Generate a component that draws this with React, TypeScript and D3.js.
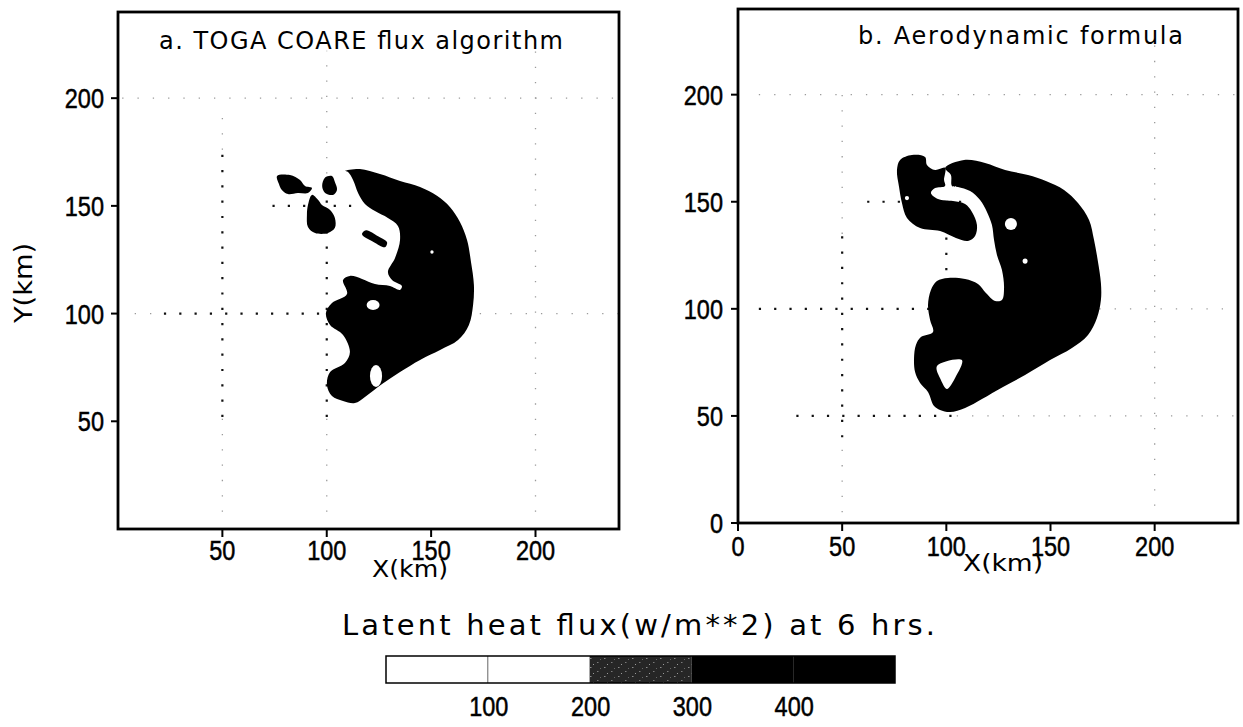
import React from 'react';
import * as d3 from 'd3';

type P = [number, number];

// ---------- axis / legend values ----------
const xTicksA = [50, 100, 150, 200];
const yTicksA = [50, 100, 150, 200];
const xTicksB = [0, 50, 100, 150, 200];
const yTicksB = [0, 50, 100, 150, 200];
const domainKm: [number, number] = [0, 240];
const legendBounds = [0, 100, 200, 300, 400, 500];
const legendLabels = [100, 200, 300, 400];
const titleA = 'a. TOGA COARE flux algorithm';
const titleB = 'b. Aerodynamic formula';
const bottomTitle = 'Latent heat flux(w/m**2) at 6 hrs.';

// ---------- panel a: regions with flux > 300 W/m2 (km) ----------
const fluxA_main: P[] = [
  [108.7, 166.2], [115.9, 167.1], [125.5, 164.8], [135.1, 161.6], [144.7, 158.8], [152.8, 154.7],
  [159.0, 149.5], [163.8, 142.5], [167.2, 134.2], [169.1, 124.0], [170.5, 113.3], [170.1, 104.0],
  [168.1, 94.7], [162.9, 87.7], [154.3, 83.1], [144.7, 78.5], [135.1, 72.9], [126.5, 67.3],
  [118.3, 61.3], [113.5, 58.5], [107.8, 59.4], [102.5, 61.7], [100.1, 66.9], [101.6, 72.9],
  [108.7, 77.1], [111.1, 82.2], [107.8, 90.1], [101.6, 94.7], [99.6, 100.3], [102.5, 104.9],
  [109.7, 109.1], [107.8, 115.6], [111.1, 117.5], [116.9, 116.1], [123.1, 113.7], [130.3, 112.8],
  [135.1, 111.0], [136.0, 112.8], [131.3, 115.6], [129.3, 119.3], [132.7, 125.8], [135.1, 134.2],
  [134.1, 140.7], [129.3, 144.4], [123.1, 147.6], [118.3, 150.9], [115.0, 156.0], [112.6, 162.0],
  [110.2, 165.7],
];
const fluxA_bar: P[] = [[116.9, 136.8], [118.8, 138.7], [124.6, 135.9], [128.9, 133.1], [127.9, 130.8], [122.6, 133.1]];
const fluxA_blob1: P[] = [[76.2, 163.9], [82.4, 164.3], [87.2, 162.0], [89.6, 159.2], [92.9, 158.3], [91.0, 156.0], [86.2, 156.0], [81.4, 155.5], [78.5, 157.4], [77.1, 160.2]];
const fluxA_blob2: P[] = [[99.2, 163.2], [102.5, 163.9], [103.9, 161.1], [104.9, 157.4], [103.0, 155.1], [99.2, 156.0], [97.8, 159.2]];
const fluxA_blob3: P[] = [[92.9, 155.1], [95.8, 152.8], [97.7, 150.4], [101.6, 148.1], [103.9, 144.4], [103.9, 139.8], [100.6, 137.4], [94.4, 137.4], [91.0, 140.2], [90.5, 145.8], [91.0, 150.4]];
// white holes (cx, cy, rx, ry) in km
const fluxA_holes: [number, number, number, number][] = [[122.2, 104.0, 3.1, 2.3], [123.6, 71.0, 2.9, 5.1], [150.4, 128.6, 0.8, 0.8]];

// ---------- panel b ----------
const fluxB_main: P[] = [
  [99.4, 165.8], [108.5, 169.5], [118.6, 168.1], [128.2, 164.8], [139.2, 162.5], [147.8, 159.7],
  [156.5, 155.5], [163.2, 149.4], [168.5, 141.5], [170.9, 132.1], [172.8, 121.9], [174.2, 112.1],
  [174.2, 104.1], [172.3, 95.7], [168.0, 87.8], [160.3, 81.7], [149.8, 76.1], [137.8, 69.1],
  [127.2, 63.5], [117.1, 57.9], [109.0, 53.7], [101.8, 51.8], [97.0, 52.8], [94.1, 54.6],
  [91.2, 61.2], [87.4, 65.4], [85.0, 70.5], [84.5, 77.0], [85.4, 83.1], [87.8, 86.8],
  [93.6, 89.2], [92.2, 94.8], [91.2, 101.8], [92.6, 108.8], [95.5, 113.0], [100.8, 114.4],
  [109.0, 113.9], [115.2, 111.6], [119.0, 107.4], [123.4, 103.7], [126.7, 104.1], [127.7, 109.7],
  [126.7, 118.1], [124.3, 125.1], [122.9, 132.1], [121.9, 139.1], [119.5, 145.2], [116.2, 150.8],
  [111.4, 155.0], [105.6, 156.9], [102.7, 157.4], [102.2, 162.5],
];
const fluxB_head: P[] = [
  [77.8, 169.5], [83.5, 171.8], [89.8, 170.9], [90.7, 167.2], [94.6, 164.8], [99.4, 165.8],
  [98.9, 160.2], [99.4, 157.4], [94.6, 156.4], [92.6, 154.1], [96.0, 151.3], [103.2, 150.3],
  [109.0, 148.9], [112.3, 145.2], [114.7, 139.1], [113.8, 134.0], [110.4, 131.7], [104.6, 133.1],
  [97.0, 136.3], [87.4, 137.7], [81.1, 142.4], [78.7, 149.4], [77.3, 156.9], [76.3, 164.8],
];
const fluxB_notch: P[] = [[95.5, 73.3], [107.5, 76.1], [104.2, 67.7], [100.3, 62.6], [97.4, 66.8]];
const fluxB_holes: [number, number, number, number][] = [[131.0, 139.6, 2.9, 2.8], [137.8, 122.3, 1.2, 1.2], [81.1, 151.7, 1.0, 1.0]];

// ---------- dotted reference lines (km) ----------
type G = { dir: 'h' | 'v'; at: number; from: number; to: number };
const gridA_dark: G[] = [
  { dir: 'h', at: 100, from: 22, to: 100 }, { dir: 'h', at: 150, from: 74, to: 112 },
  { dir: 'v', at: 50, from: 52, to: 176 }, { dir: 'v', at: 100, from: 52, to: 165 },
];
const gridA_light: G[] = [
  { dir: 'h', at: 200, from: 2, to: 240 }, { dir: 'h', at: 100, from: 8, to: 22 },
  { dir: 'h', at: 100, from: 100, to: 240 },
  { dir: 'v', at: 50, from: 8, to: 52 }, { dir: 'v', at: 50, from: 176, to: 196 },
  { dir: 'v', at: 100, from: 8, to: 52 }, { dir: 'v', at: 100, from: 165, to: 222 },
  { dir: 'v', at: 200, from: 8, to: 228 },
];
const gridB_dark: G[] = [
  { dir: 'h', at: 100, from: 10, to: 100 }, { dir: 'h', at: 150, from: 62, to: 112 },
  { dir: 'h', at: 50, from: 28, to: 105 }, { dir: 'v', at: 50, from: 40, to: 135 },
  { dir: 'v', at: 100, from: 118, to: 135 },
];
const gridB_light: G[] = [
  { dir: 'h', at: 200, from: 10, to: 240 }, { dir: 'h', at: 100, from: 100, to: 240 },
  { dir: 'h', at: 50, from: 105, to: 240 }, { dir: 'v', at: 50, from: 5, to: 40 },
  { dir: 'v', at: 50, from: 135, to: 205 }, { dir: 'v', at: 200, from: 8, to: 230 },
];

const LABEL_FONT = '"Liberation Sans", Arial, sans-serif';
const TITLE_FONT = '"DejaVu Sans", sans-serif';

function Num({ x, y, text, anchor = 'middle', size = 28 }: { x: number; y: number; text: string; anchor?: string; size?: number }) {
  return (
    <text transform={`translate(${x},${y}) scale(0.84,1)`} textAnchor={anchor as any} fontFamily={LABEL_FONT} fontSize={size}
      fill="#000" stroke="#000" strokeWidth={0.5}>
      {text}
    </text>
  );
}

type PanelProps = {
  id: string;
  x0: number; x1: number; y0: number; y1: number;
  xTicks: number[]; yTicks: number[];
  shapes: P[][]; whiteShapes: P[][]; holes: [number, number, number, number][];
  dark: G[]; light: G[];
  xLabelBaseline: number; yLabelRight: number;
};

function Panel(p: PanelProps) {
  const xs = d3.scaleLinear().domain(domainKm).range([p.x0, p.x1]);
  const ys = d3.scaleLinear().domain(domainKm).range([p.y0, p.y1]);
  const line = d3.line<P>().x(d => xs(d[0])).y(d => ys(d[1])).curve(d3.curveCatmullRomClosed.alpha(0.5));
  const seg = (g: G) => g.dir === 'h'
    ? { x1: xs(g.from), x2: xs(g.to), y1: ys(g.at), y2: ys(g.at) }
    : { x1: xs(g.at), x2: xs(g.at), y1: ys(g.from), y2: ys(g.to) };
  return (
    <g>
      <defs>
        <clipPath id={`clip-${p.id}`}>
          <rect x={p.x0} y={p.y1} width={p.x1 - p.x0} height={p.y0 - p.y1} />
        </clipPath>
      </defs>
      <g clipPath={`url(#clip-${p.id})`}>
        {p.light.map((g, i) => (
          <line key={'l' + i} {...seg(g)} stroke="#9a9a9a" strokeWidth={1.3} strokeDasharray="1.3 14" />
        ))}
        {p.dark.map((g, i) => (
          <line key={'d' + i} {...seg(g)} stroke="#111" strokeWidth={2.2} strokeDasharray="2.2 13.1" />
        ))}
        {p.shapes.map((s, i) => (
          <path key={'s' + i} d={line(s) || ''} fill="#000" />
        ))}
        {p.whiteShapes.map((s, i) => (
          <path key={'w' + i} d={line(s) || ''} fill="#fff" />
        ))}
        {p.holes.map((h, i) => (
          <ellipse key={'h' + i} cx={xs(h[0])} cy={ys(h[1])} rx={xs(h[2]) - xs(0)} ry={ys(0) - ys(h[3])} fill="#fff" />
        ))}
      </g>
      <rect x={p.x0} y={p.y1} width={p.x1 - p.x0} height={p.y0 - p.y1} fill="none" stroke="#000" strokeWidth={2.8} />
      {p.xTicks.map(t => (
        <g key={'xt' + t}>
          <line x1={xs(t)} x2={xs(t)} y1={p.y0} y2={p.y0 + 8} stroke="#000" strokeWidth={2} />
          <Num x={xs(t)} y={p.xLabelBaseline} text={String(t)} />
        </g>
      ))}
      {p.yTicks.map(t => (
        <g key={'yt' + t}>
          <line x1={p.x0 - 7} x2={p.x0} y1={ys(t)} y2={ys(t)} stroke="#000" strokeWidth={2} />
          <Num x={p.yLabelRight} y={ys(t) + 10} text={String(t)} anchor="end" />
        </g>
      ))}
    </g>
  );
}

export default function App() {
  const lx = d3.scaleLinear().domain([legendBounds[0], legendBounds[legendBounds.length - 1]]).range([386, 895]);
  const legendFill = ['#fff', '#fff', 'url(#stipple)', '#000', '#000'];
  return (
    <svg width={1243} height={727} viewBox="0 0 1243 727" style={{ position: 'absolute', left: 0, top: 0, background: '#fff' }}>
      <defs>
        <pattern id="stipple" width="14" height="9" patternUnits="userSpaceOnUse">
          <rect width="14" height="9" fill="#262626" />
          <rect x="2" y="1" width="1.5" height="1" fill="#8a8a8a" />
          <rect x="9" y="5" width="1.5" height="1" fill="#7a7a7a" />
          <rect x="5" y="7" width="1" height="1" fill="#999" />
          <rect x="12" y="2" width="1" height="1" fill="#666" />
        </pattern>
      </defs>
      <rect width={1243} height={727} fill="#fff" />

      <Panel id="a" x0={118} x1={619} y0={529} y1={12} xTicks={xTicksA} yTicks={yTicksA}
        shapes={[fluxA_main, fluxA_bar, fluxA_blob1, fluxA_blob2, fluxA_blob3]} whiteShapes={[]} holes={fluxA_holes}
        dark={gridA_dark} light={gridA_light} xLabelBaseline={560} yLabelRight={104} />
      <Panel id="b" x0={738} x1={1238} y0={523} y1={9} xTicks={xTicksB} yTicks={yTicksB}
        shapes={[fluxB_main, fluxB_head]} whiteShapes={[fluxB_notch]} holes={fluxB_holes}
        dark={gridB_dark} light={gridB_light} xLabelBaseline={556} yLabelRight={723} />

      <text x={159} y={49} fontFamily={TITLE_FONT} fontSize={24} textLength={404} lengthAdjust="spacing">{titleA}</text>
      <text x={858} y={44} fontFamily={TITLE_FONT} fontSize={24} textLength={325} lengthAdjust="spacing">{titleB}</text>

      <text x={372} y={577} fontFamily={TITLE_FONT} fontSize={23} textLength={76} lengthAdjust="spacingAndGlyphs">X(km)</text>
      <text x={963} y={571} fontFamily={TITLE_FONT} fontSize={23} textLength={80} lengthAdjust="spacingAndGlyphs">X(km)</text>
      <text transform="translate(32,283) rotate(-90)" textAnchor="middle" fontFamily={TITLE_FONT} fontSize={25} textLength={80} lengthAdjust="spacingAndGlyphs">Y(km)</text>

      <text x={342} y={635} fontFamily={TITLE_FONT} fontSize={29} textLength={593} lengthAdjust="spacing">{bottomTitle}</text>

      {legendFill.map((f, i) => (
        <rect key={i} x={lx(legendBounds[i])} y={656} width={lx(legendBounds[i + 1]) - lx(legendBounds[i])} height={27} fill={f} />
      ))}
      <line x1={lx(100)} x2={lx(100)} y1={656} y2={683} stroke="#666" strokeWidth={1} />
      <rect x={lx(0)} y={656} width={lx(500) - lx(0)} height={27} fill="none" stroke="#000" strokeWidth={1.5} />
      {legendLabels.map(v => (
        <Num key={v} x={lx(v) + 1} y={716} text={String(v)} />
      ))}
    </svg>
  );
}
